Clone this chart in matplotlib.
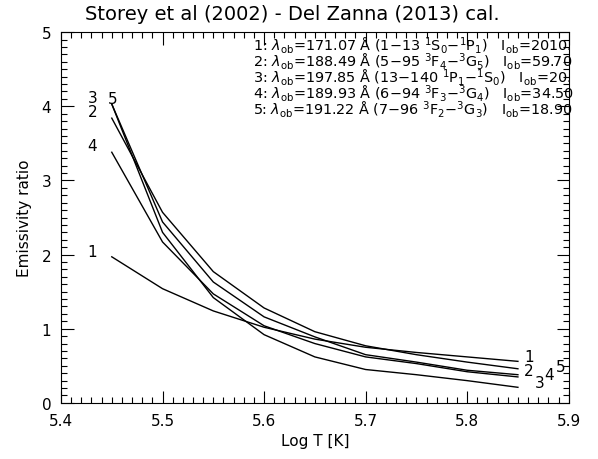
import numpy as np
import matplotlib
matplotlib.use('Agg')
import matplotlib.pyplot as plt
from matplotlib.ticker import MultipleLocator

# 温度网格 (Log T)
logt = [5.45, 5.50, 5.55, 5.60, 5.65, 5.70, 5.75, 5.80, 5.85]

# 各谱线的发射率比值
ratio_1 = [1.97, 1.54, 1.24, 1.02, 0.86, 0.75, 0.68, 0.62, 0.56]
ratio_2 = [3.84, 2.57, 1.77, 1.28, 0.96, 0.77, 0.65, 0.55, 0.46]
ratio_3 = [4.03, 2.30, 1.42, 0.92, 0.62, 0.45, 0.38, 0.30, 0.21]
ratio_4 = [3.38, 2.17, 1.47, 1.04, 0.80, 0.62, 0.53, 0.42, 0.35]
ratio_5 = [4.03, 2.44, 1.63, 1.16, 0.89, 0.65, 0.55, 0.44, 0.38]

ratios = [ratio_1, ratio_2, ratio_3, ratio_4, ratio_5]
line_ids = ['1', '2', '3', '4', '5']

# 曲线两端的编号位置
left_label_x = [5.431, 5.431, 5.431, 5.431, 5.451]
left_label_y = [2.04, 3.93, 4.12, 3.47, 4.10]
right_label_x = [5.861, 5.861, 5.871, 5.881, 5.892]
right_label_y = [0.62, 0.43, 0.27, 0.38, 0.49]

# 图例文字
legend_lines = [
    r'1: $\lambda_{\rm ob}$=171.07 Å (1$-$13 $^1$S$_0$$-$$^1$P$_1$)   I$_{\rm ob}$=2010.',
    r'2: $\lambda_{\rm ob}$=188.49 Å (5$-$95 $^3$F$_4$$-$$^3$G$_5$)   I$_{\rm ob}$=59.70',
    r'3: $\lambda_{\rm ob}$=197.85 Å (13$-$140 $^1$P$_1$$-$$^1$S$_0$)   I$_{\rm ob}$=20.',
    r'4: $\lambda_{\rm ob}$=189.93 Å (6$-$94 $^3$F$_3$$-$$^3$G$_4$)   I$_{\rm ob}$=34.50',
    r'5: $\lambda_{\rm ob}$=191.22 Å (7$-$96 $^3$F$_2$$-$$^3$G$_3$)   I$_{\rm ob}$=18.90',
]

plt.rcParams['font.family'] = 'DejaVu Sans'
plt.rcParams['mathtext.fontset'] = 'dejavusans'

fig = plt.figure(figsize=(5.98, 4.60), dpi=100)
ax = fig.add_axes([0.102, 0.122, 0.849, 0.806])

for r in ratios:
    ax.plot(logt, r, color='black', lw=1.0)

for i in range(5):
    ax.text(left_label_x[i], left_label_y[i], line_ids[i], fontsize=11,
            ha='center', va='center')
    ax.text(right_label_x[i], right_label_y[i], line_ids[i], fontsize=11,
            ha='center', va='center', clip_on=False)

# 图例
for i, s in enumerate(legend_lines):
    ax.text(0.378, 0.965 - i * 0.043, s, transform=ax.transAxes, fontsize=10.4,
            ha='left', va='center', clip_on=False)

ax.set_xlim(5.4, 5.9)
ax.set_ylim(0, 5)
ax.xaxis.set_major_locator(MultipleLocator(0.1))
ax.xaxis.set_minor_locator(MultipleLocator(0.01))
ax.yaxis.set_major_locator(MultipleLocator(1))
ax.yaxis.set_minor_locator(MultipleLocator(0.1))
ax.set_xticks(np.arange(5.4, 5.91, 0.1))
ax.set_xticklabels(['5.4', '5.5', '5.6', '5.7', '5.8', '5.9'])
ax.tick_params(which='both', direction='in', top=True, right=True,
               labelsize=11, width=0.8)
ax.tick_params(which='major', length=9, pad=7)
ax.tick_params(which='minor', length=4)
for sp in ax.spines.values():
    sp.set_linewidth(0.8)

ax.set_xlabel('Log T [K]', fontsize=11)
ax.set_ylabel('Emissivity ratio', fontsize=11)
ax.yaxis.set_label_coords(-0.057, 0.5)
fig.text(0.488, 0.968, 'Storey et al (2002) - Del Zanna (2013) cal.', fontsize=14,
         ha='center', va='center')

plt.savefig('out.png', dpi=100)
